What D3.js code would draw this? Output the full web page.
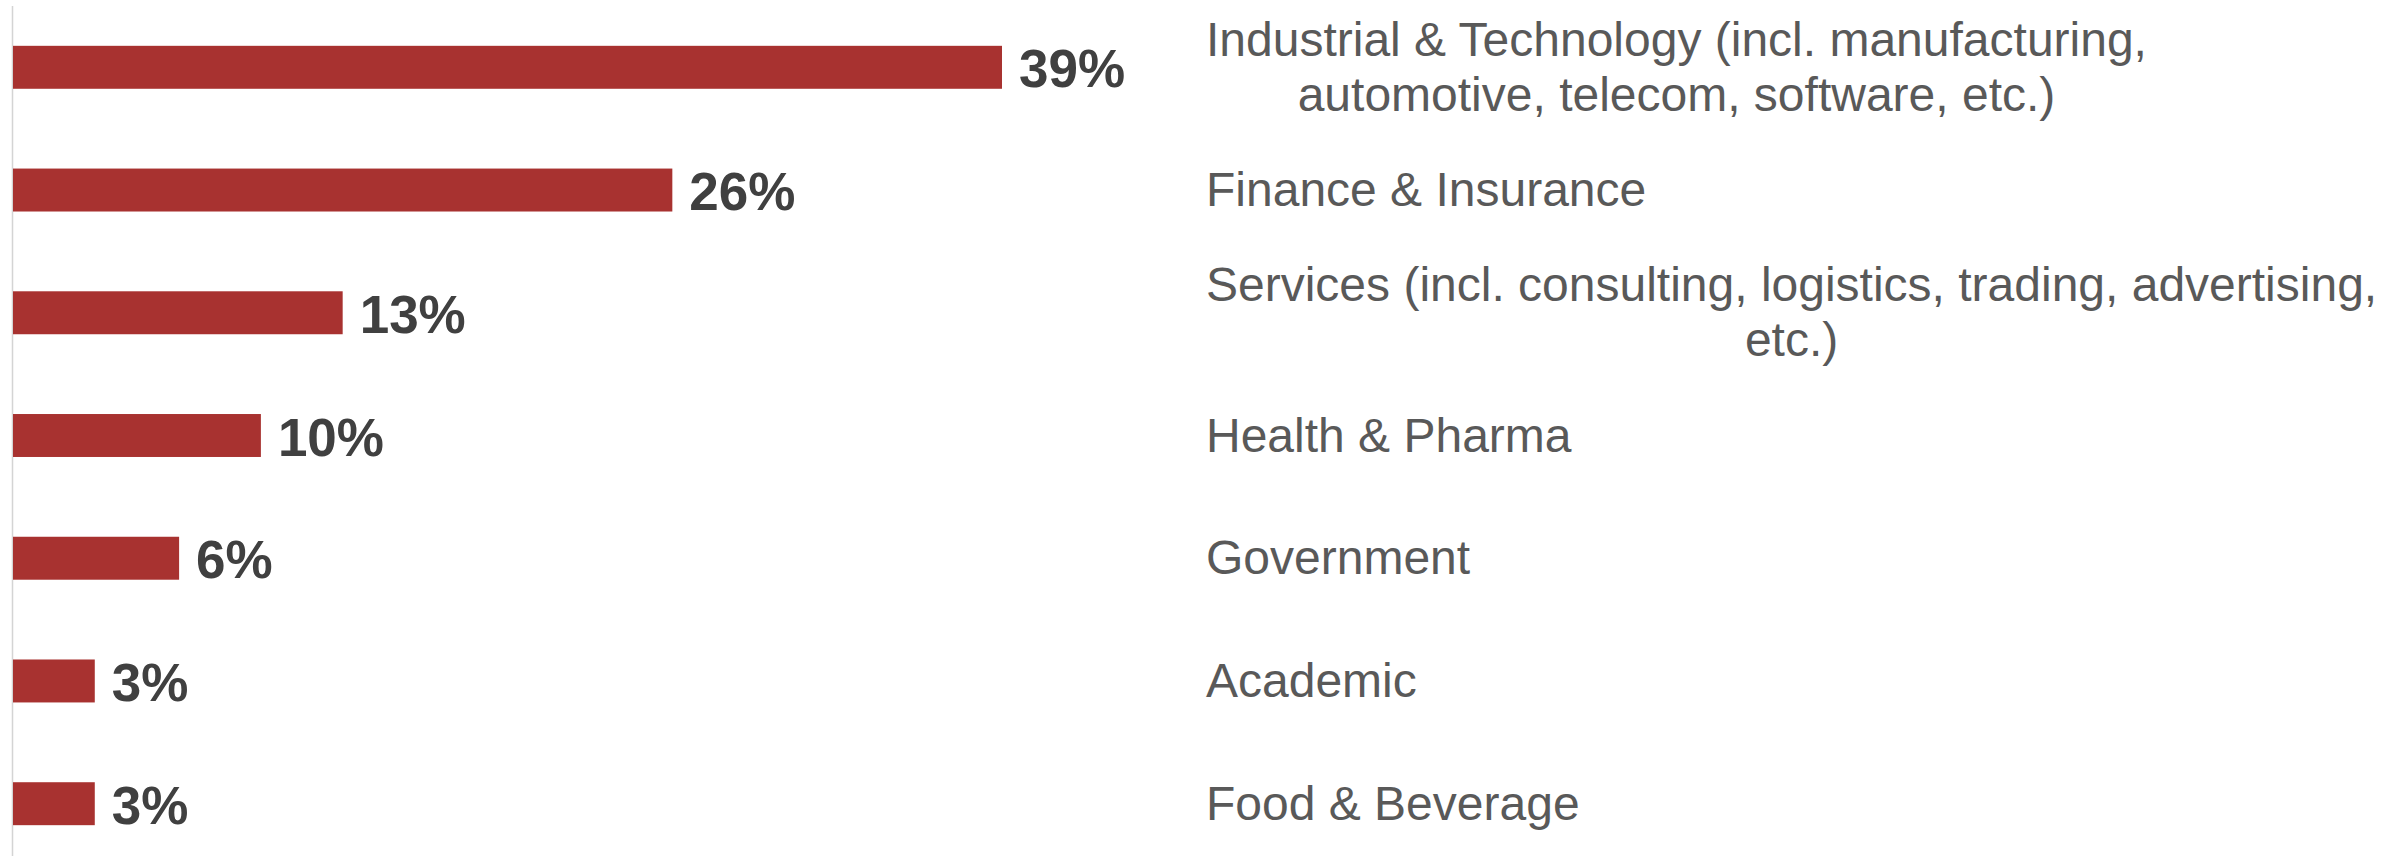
<!DOCTYPE html>
<html lang="en">
<head>
  <meta charset="UTF-8">
  <title>Industry breakdown</title>
  <script src="https://d3js.org/d3.v7.min.js"></script>
  <style>
    body {
      margin: 0;
      background: #fff;
      font-family: 'Liberation Sans', Arial, Helvetica, sans-serif;
    }
    .value-label {
      font-size: 53px;
      font-weight: bold;
      fill: #404040;
    }
    .cat-label {
      font-size: 48px;
      fill: #595959;
    }
  </style>
</head>
<body>
<svg width="2405" height="856"></svg>
<script>
  // data: share of respondents by industry (n = 31)
  const categories = [
    "Industrial & Technology (incl. manufacturing,\nautomotive, telecom, software, etc.)",
    "Finance & Insurance",
    "Services (incl. consulting, logistics, trading, advertising,\netc.)",
    "Health & Pharma",
    "Government",
    "Academic",
    "Food & Beverage"
  ];
  const values = [38.7, 25.8, 12.9, 9.7, 6.5, 3.2, 3.2];
  const valueLabels = ["39%", "26%", "13%", "10%", "6%", "3%", "3%"];

  const svg = d3.select("svg");
  const labelX = 1206;

  const x = d3.scaleLinear()
    .domain([0, d3.max(values)])
    .range([13, 1002]);

  const y = d3.scaleBand()
    .domain(categories)
    .range([9, 862])
    .paddingInner(0.65)
    .paddingOuter(0.3);

  // left axis: just the baseline, no ticks
  svg.append("g")
    .attr("transform", `translate(${x(0) - 0.5},0)`)
    .call(d3.axisLeft(y).tickSize(0).tickFormat(""))
    .call(g => g.select(".domain").attr("stroke", "#d4d4d4").attr("stroke-width", 1.5)
      .attr("d", "M0,6V856"));

  // bars
  svg.append("g")
    .selectAll("rect")
    .data(categories)
    .join("rect")
    .attr("x", x(0))
    .attr("y", d => y(d))
    .attr("width", (d, i) => x(values[i]) - x(0))
    .attr("height", y.bandwidth())
    .attr("fill", "#a83230");

  // value labels
  svg.append("g")
    .selectAll("text")
    .data(categories)
    .join("text")
    .attr("class", "value-label")
    .attr("x", (d, i) => x(values[i]) + 17)
    .attr("y", d => y(d) + y.bandwidth() / 2 + 20)
    .text((d, i) => valueLabels[i]);

  // category labels, lines centred within the block, block left-aligned
  const lineH = 55;
  const cat = svg.append("g")
    .selectAll("text")
    .data(categories)
    .join("text")
    .attr("class", "cat-label");

  cat.each(function(d) {
    const lines = d.split("\n");
    const t = d3.select(this);
    const cy = y(d) + y.bandwidth() / 2 + 16 - (lines.length - 1) * lineH / 2;
    const spans = lines.map((l, j) => t.append("tspan")
      .attr("y", cy + j * lineH)
      .text(l));
    const maxW = d3.max(spans, s => s.node().getComputedTextLength());
    spans.forEach(s => s.attr("x", labelX + maxW / 2).attr("text-anchor", "middle"));
  });
</script>
</body>
</html>
